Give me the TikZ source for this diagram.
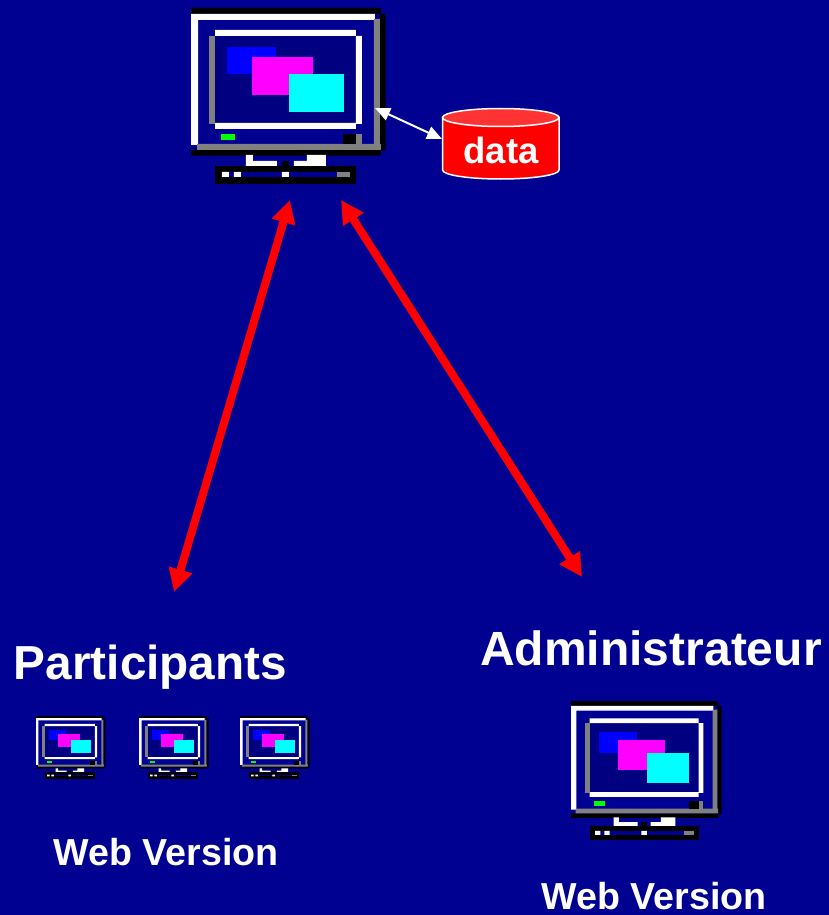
\documentclass[tikz,border=0pt]{standalone}
\usepackage{fontspec}
\setmainfont{Liberation Sans}
\usetikzlibrary{arrows.meta}
\definecolor{deskblue}{RGB}{0,0,145}
\definecolor{screenblue}{RGB}{0,0,128}
\definecolor{winblue}{RGB}{0,0,255}
\definecolor{winpink}{RGB}{255,0,255}
\definecolor{wincyan}{RGB}{0,255,255}
\definecolor{ledgreen}{RGB}{0,255,0}
\definecolor{lidred}{RGB}{255,51,51}
\tikzset{
    whitetext/.style={text=white,font=\bfseries\fontsize{#1}{#1}\selectfont,inner sep=0pt,anchor=base},
    redlink/.style={draw=red,line width=8pt,{Triangle[length=23pt,width=23pt]}-{Triangle[length=23pt,width=23pt]}},
    whitelink/.style={draw=white,line width=2pt,{Triangle[length=15pt,width=13pt]}-{Triangle[length=15pt,width=13pt]}},
    monitor/.pic={
        \begin{scope}[shift={(-33,-24)}]
            % case
            \fill[black] (33,24) rectangle (603,42) (600,42) rectangle (617,452) (33,450) rectangle (603,467);
            \fill[white] (33,42) rectangle (585,60) (33,42) rectangle (54,435);
            \fill[gray] (582,57) rectangle (600,450) (51,432) rectangle (603,450);
            % screen
            \fill[screenblue] (105,108) rectangle (528,369);
            \fill[white] (105,90) rectangle (528,108) (528,108) rectangle (546,372) (105,369) rectangle (528,387);
            \fill[gray] (87,108) rectangle (105,372);
            \fill[winblue] (141,141) rectangle (288,222);
            \fill[winpink] (216,171) rectangle (399,285);
            \fill[wincyan] (327,222) rectangle (492,336);
            \fill[ledgreen] (123,402) rectangle (165,420);
            \fill[black] (489,402) rectangle (528,432);
            \fill[gray] (528,402) rectangle (546,432);
            % stand
            \fill[white] (198,465) rectangle (219,483) (198,483) rectangle (291,498);
            \fill[white] (381,465) rectangle (438,498) (342,483) rectangle (381,498);
            \fill[black] (306,483) rectangle (327,498);
            % keyboard
            \fill[black] (105,498) rectangle (528,551);
            \fill[deskblue] (126,516) rectangle (510,531);
            \fill[white] (126,516) rectangle (147,531) (162,516) rectangle (183,531) (306,516) rectangle (327,531);
            \fill[gray] (471,516) rectangle (510,531);
        \end{scope}
    }
}
\begin{document}
\begin{tikzpicture}[x=1pt,y=-1pt]
    \fill[deskblue] (0,0) rectangle (829,915);
    \useasboundingbox (0,0) rectangle (829,915);

    \pic[scale=0.3333] at (191,8) {monitor};
    \pic[scale=0.119] at (36,716) {monitor};
    \pic[scale=0.119] at (139,716) {monitor};
    \pic[scale=0.119] at (240,716) {monitor};
    \pic[xscale=0.258,yscale=0.264] at (571,701) {monitor};

    % drum
    \filldraw[fill=red,draw=white,line width=1.5pt]
        (442.5,117.5) -- (442.5,170) arc[start angle=180,end angle=0,x radius=58.25,y radius=9]
        -- (559,117.5) -- cycle;
    \filldraw[fill=lidred,draw=white,line width=1.5pt] (500.75,117.5) ellipse[x radius=58.25,y radius=9];
    \node[whitetext=36.5] (data) at (501,164) {data};

    \node[whitetext=47.7] (participants) at (150.5,679.5) {Participants};
    \node[whitetext=48] (admin) at (651,665) {Administrateur};
    \node[whitetext=37.6] (webpart) at (166,865) {Web Version};
    \node[whitetext=37.6] (webadmin) at (654,909) {Web Version};

    \coordinate (serverport) at (375,108);
    \coordinate (dataport) at (442,139);
    \coordinate (serverleft) at (290,200);
    \coordinate (partport) at (174,592);
    \coordinate (serverright) at (341,200);
    \coordinate (adminport) at (582,577);

    \draw[whitelink] (serverport) -- (dataport);
    \draw[redlink] (serverleft) -- (partport);
    \draw[redlink] (serverright) -- (adminport);
\end{tikzpicture}
\end{document}
